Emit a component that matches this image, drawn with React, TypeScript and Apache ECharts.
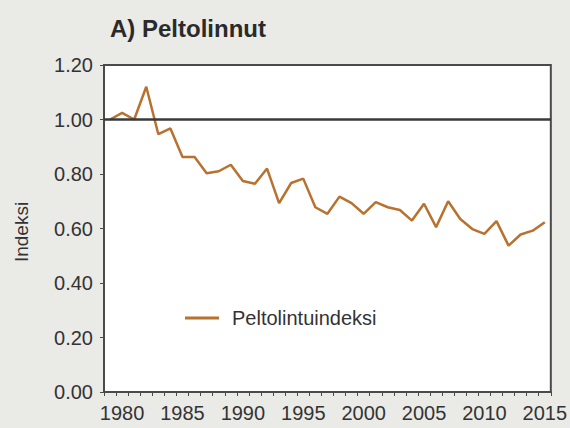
import React, { useEffect, useRef } from "react";
import * as echarts from "echarts";

const years: string[] = [];
for (let y = 1979; y <= 2015; y++) years.push(String(y));

const indexValues = [
  1.0, 1.024, 1.0, 1.12, 0.946, 0.967, 0.862, 0.862, 0.803, 0.81,
  0.834, 0.774, 0.764, 0.82, 0.693, 0.767, 0.783, 0.678, 0.654, 0.717,
  0.693, 0.654, 0.697, 0.678, 0.668, 0.629, 0.691, 0.605, 0.70, 0.635,
  0.598, 0.58, 0.627, 0.537, 0.578, 0.592, 0.623,
];

const seriesName = "Peltolintuindeksi";
const titleText = "A) Peltolinnut";
const yAxisName = "Indeksi";
const referenceValue = 1.0;

export default function App() {
  const ref = useRef<HTMLDivElement>(null);
  useEffect(() => {
    if (!ref.current) return;
    const chart = echarts.init(ref.current, undefined, { renderer: "svg" });
    const font = "Arial, 'Liberation Sans', sans-serif";
    chart.setOption({
      animation: false,
      backgroundColor: "#eaeae7",
      textStyle: { fontFamily: font },
      title: {
        text: titleText,
        left: 105,
        top: 11,
        textStyle: { fontSize: 24, fontWeight: "bold", color: "#2a2a2a", fontFamily: font },
      },
      grid: {
        left: 104,
        right: 17,
        top: 65,
        bottom: 36,
        show: true,
        backgroundColor: "#ffffff",
        borderColor: "#4a4a4a",
        borderWidth: 2,
      },
      legend: {
        left: 180,
        top: 303,
        data: [seriesName],
        itemWidth: 34,
        itemHeight: 14,
        icon: "path://M0,6 L34,6 L34,9 L0,9 Z",
        textStyle: { fontSize: 20, color: "#333", fontFamily: font, padding: [0, 0, 0, 8] },
      },
      graphic: [
        {
          type: "text",
          x: 21,
          y: 232,
          rotation: Math.PI / 2,
          style: {
            text: yAxisName,
            fontSize: 19,
            fill: "#333",
            fontFamily: font,
            align: "center",
            verticalAlign: "middle",
          },
        },
      ],
      xAxis: {
        type: "category",
        data: years,
        boundaryGap: true,
        axisLine: { lineStyle: { color: "#4a4a4a", width: 2 } },
        axisTick: { show: true, interval: 0, length: 4, lineStyle: { color: "#4a4a4a" } },
        axisLabel: {
          interval: (i: number, v: string) => Number(v) % 5 === 0,
          fontSize: 20,
          color: "#333",
          margin: 11,
          fontFamily: font,
        },
        splitLine: { show: false },
      },
      yAxis: {
        type: "value",
        min: 0,
        max: 1.2,
        interval: 0.2,
        axisLine: { show: true, lineStyle: { color: "#4a4a4a", width: 2 } },
        axisTick: { show: true, length: 4, lineStyle: { color: "#4a4a4a" } },
        axisLabel: {
          formatter: (v: number) => v.toFixed(2),
          fontSize: 20,
          color: "#333",
          margin: 11,
          fontFamily: font,
        },
        splitLine: { show: false },
      },
      series: [
        {
          name: seriesName,
          type: "line",
          data: indexValues,
          symbol: "none",
          lineStyle: { color: "#b8712f", width: 2.5 },
          itemStyle: { color: "#b8712f" },
          markLine: {
            silent: true,
            symbol: "none",
            label: { show: false },
            lineStyle: { color: "#3a3a3a", width: 2.5, type: "solid" },
            data: [{ yAxis: referenceValue }],
          },
        },
      ],
    });
    return () => chart.dispose();
  }, []);
  return (
    <div
      ref={ref}
      style={{ position: "absolute", left: 0, top: 0, width: 570, height: 428 }}
    />
  );
}
